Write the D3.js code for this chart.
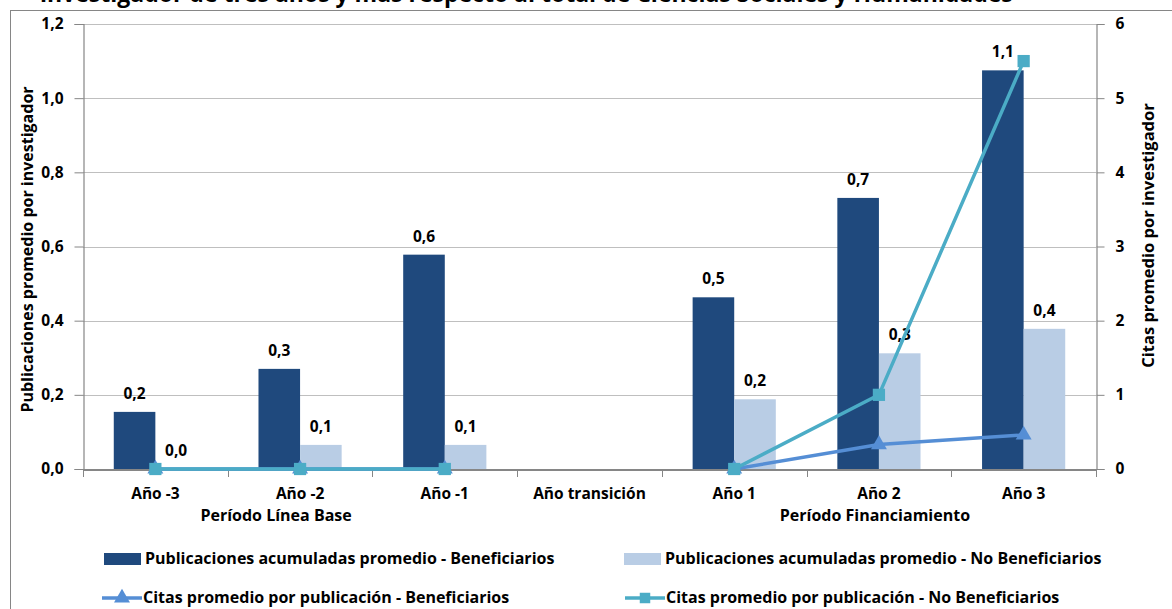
<!DOCTYPE html>
<html>
<head>
<meta charset="utf-8">
<script src="https://cdn.jsdelivr.net/npm/d3@7"></script>
<style>
  body { margin: 0; background: #fff; }
  svg { display: block; font-family: "Open Sans", Lato, sans-serif; font-weight: bold; }
</style>
</head>
<body>
<div id="canvas"></div>
<script>
"use strict";

/* Drawing config */
let svgWidth = 1172;
let svgHeight = 609;
let plot = { left: 83, right: 1096, top: 24, bottom: 469 };

/* Data */
let categories = ["Año -3", "Año -2", "Año -1", "Año transición", "Año 1", "Año 2", "Año 3"];
let pubBenef   = [0.154, 0.27, 0.578, null, 0.463, 0.731, 1.075];
let pubNoBenef = [0.0, 0.065, 0.065, null, 0.188, 0.312, 0.378];
let citBenef   = [0, 0, 0, null, 0, 0.33, 0.46];
let citNoBenef = [0, 0, 0, null, 0, 1.0, 5.5];
let leftTicks  = [0, 0.2, 0.4, 0.6, 0.8, 1.0, 1.2];
let rightTicks = [0, 1, 2, 3, 4, 5, 6];
let periods = [
  { label: "Período Línea Base", at: "Año -2", dx: -24 },
  { label: "Período Financiamiento", at: "Año 2", dx: -4 }
];

let barSeries = ["Publicaciones acumuladas promedio - Beneficiarios",
                 "Publicaciones acumuladas promedio - No Beneficiarios"];
let lineSeries = ["Citas promedio por publicación - Beneficiarios",
                  "Citas promedio por publicación - No Beneficiarios"];

let darkBlue = "#1F497D", lightBlue = "#B9CDE5";
let triColor = "#558ED5", sqColor = "#4BACC6";
let axisGray = "#868686", gridGray = "#BFBFBF";

let fmt = v => d3.format(".1f")(v).replace(".", ",");

let svg = d3.select("#canvas").append("svg")
  .attr("width", svgWidth)
  .attr("height", svgHeight);

/* Title: only the bottom of its second line shows in the original */
svg.append("text")
  .attr("x", 40)
  .attr("y", 2)
  .attr("font-size", 23)
  .text("investigador de tres años y más respecto al total de Ciencias Sociales y Humanidades");

/* Outer chart border */
svg.append("rect")
  .attr("x", 10.5).attr("y", 10.5)
  .attr("width", svgWidth).attr("height", svgHeight)
  .attr("fill", "none")
  .attr("stroke", axisGray);

/* Scales */
let x0 = d3.scaleBand().domain(categories).range([plot.left, plot.right]).padding(0);
let x1 = d3.scaleBand().domain([0, 1]).range([0, x0.bandwidth()]).paddingInner(0).paddingOuter(0.74);
let yLeft = d3.scaleLinear().domain([0, 1.2]).range([plot.bottom, plot.top]);
let yRight = d3.scaleLinear().domain([0, 6]).range([plot.bottom, plot.top]);

/* Gridlines */
svg.append("g")
  .selectAll("line")
  .data(leftTicks.slice(1))
  .join("line")
  .attr("x1", plot.left).attr("x2", plot.right)
  .attr("y1", d => Math.round(yLeft(d)) + 0.5)
  .attr("y2", d => Math.round(yLeft(d)) + 0.5)
  .attr("stroke", gridGray);

/* Axes */
let leftAxis = svg.append("g")
  .attr("transform", `translate(${plot.left + 0.5},0)`)
  .call(d3.axisLeft(yLeft).tickValues(leftTicks).tickFormat(d => fmt(d)).tickSize(9).tickPadding(11));

let rightAxis = svg.append("g")
  .attr("transform", `translate(${plot.right + 0.5},0)`)
  .call(d3.axisRight(yRight).tickValues(rightTicks).tickFormat(d3.format("d")).tickSize(8).tickPadding(11));

let xAxis = svg.append("g")
  .attr("transform", `translate(0,${plot.bottom + 0.5})`)
  .call(d3.axisBottom(x0).tickSize(0).tickPadding(18));

// category boundary ticks
svg.append("g")
  .selectAll("line")
  .data(categories.map(c => x0(c)).concat([plot.right]))
  .join("line")
  .attr("x1", d => Math.round(d) + 0.5).attr("x2", d => Math.round(d) + 0.5)
  .attr("y1", plot.bottom).attr("y2", plot.bottom + 8)
  .attr("stroke", axisGray);

[leftAxis, rightAxis, xAxis].forEach(g => {
  g.selectAll("path.domain").attr("stroke", axisGray).attr("stroke-width", 1.2);
  g.selectAll(".tick line").attr("stroke", axisGray);
  g.selectAll("text").attr("fill", "#000").attr("font-size", 15.5)
    .attr("font-family", "\"Open Sans\", sans-serif").attr("font-weight", "bold");
});
xAxis.select("path.domain").attr("stroke-width", 2);

/* Period labels under the categories */
svg.append("g")
  .selectAll("text")
  .data(periods)
  .join("text")
  .attr("x", d => x0(d.at) + x0.bandwidth() / 2 + d.dx)
  .attr("y", 521)
  .attr("text-anchor", "middle")
  .attr("font-size", 16)
  .text(d => d.label);

/* Axis titles */
svg.append("text")
  .attr("transform", `translate(33,${(plot.top + plot.bottom) / 2 + 3}) rotate(-90)`)
  .attr("text-anchor", "middle")
  .attr("font-size", 16)
  .text("Publicaciones  promedio por investigador");

svg.append("text")
  .attr("transform", `translate(1154,${(plot.top + plot.bottom) / 2 - 11}) rotate(-90)`)
  .attr("text-anchor", "middle")
  .attr("font-size", 16.5)
  .text("Citas promedio por investigador");

/* Bars */
let barData = [];
categories.forEach((c, i) => {
  [pubBenef, pubNoBenef].forEach((arr, s) => {
    if (arr[i] !== null) barData.push({ cat: c, s: s, v: arr[i] });
  });
});

let bars = svg.append("g");
bars.selectAll("rect")
  .data(barData)
  .join("rect")
  .attr("x", d => x0(d.cat) + x1(d.s))
  .attr("width", x1.bandwidth())
  .attr("y", d => yLeft(d.v))
  .attr("height", d => yLeft(0) - yLeft(d.v))
  .attr("fill", d => d.s === 0 ? darkBlue : lightBlue);

bars.selectAll("text")
  .data(barData)
  .join("text")
  .attr("x", d => x0(d.cat) + x1(d.s) + x1.bandwidth() / 2)
  .attr("y", d => yLeft(d.v) - 13)
  .attr("text-anchor", "middle")
  .attr("font-size", 15.5)
  .text(d => fmt(d.v));

/* Lines on the right axis */
let lineGen = d3.line()
  .defined(d => d.v !== null)
  .x(d => x0(d.cat) + x0.bandwidth() / 2)
  .y(d => yRight(d.v));

let lineDefs = [
  { values: citBenef, color: triColor, symbol: d3.symbolTriangle, size: 110 },
  { values: citNoBenef, color: sqColor, symbol: d3.symbolSquare, size: 150 }
];

lineDefs.forEach(def => {
  let pts = categories.map((c, i) => ({ cat: c, v: def.values[i] }));
  svg.append("path")
    .datum(pts)
    .attr("d", lineGen)
    .attr("fill", "none")
    .attr("stroke", def.color)
    .attr("stroke-width", 3.5);
  svg.append("g")
    .selectAll("path")
    .data(pts.filter(d => d.v !== null))
    .join("path")
    .attr("transform", d => `translate(${x0(d.cat) + x0.bandwidth() / 2},${yRight(d.v)})`)
    .attr("d", d3.symbol().type(def.symbol).size(def.size))
    .attr("fill", def.color);
});

/* Legend */
let legend = svg.append("g");
let legendItems = [
  { label: barSeries[0], kind: "bar", color: darkBlue, x: 104, y: 559 },
  { label: barSeries[1], kind: "bar", color: lightBlue, x: 624, y: 559 },
  { label: lineSeries[0], kind: "line", color: triColor, symbol: d3.symbolTriangle, x: 102, y: 598 },
  { label: lineSeries[1], kind: "line", color: sqColor, symbol: d3.symbolSquare, x: 625, y: 598 }
];

legendItems.forEach(item => {
  let g = legend.append("g").attr("transform", `translate(${item.x},${item.y})`);
  if (item.kind === "bar") {
    g.append("rect").attr("x", 0).attr("y", -6).attr("width", 37).attr("height", 12).attr("fill", item.color);
  } else {
    g.append("line").attr("x1", 0).attr("x2", 40).attr("y1", 0).attr("y2", 0)
      .attr("stroke", item.color).attr("stroke-width", 3.5);
    g.append("path").attr("transform", "translate(20,0)")
      .attr("d", d3.symbol().type(item.symbol).size(110)).attr("fill", item.color);
  }
  g.append("text")
    .attr("x", 41)
    .attr("y", 5)
    .attr("font-size", 16)
    .text(item.label);
});
</script>
</body>
</html>
